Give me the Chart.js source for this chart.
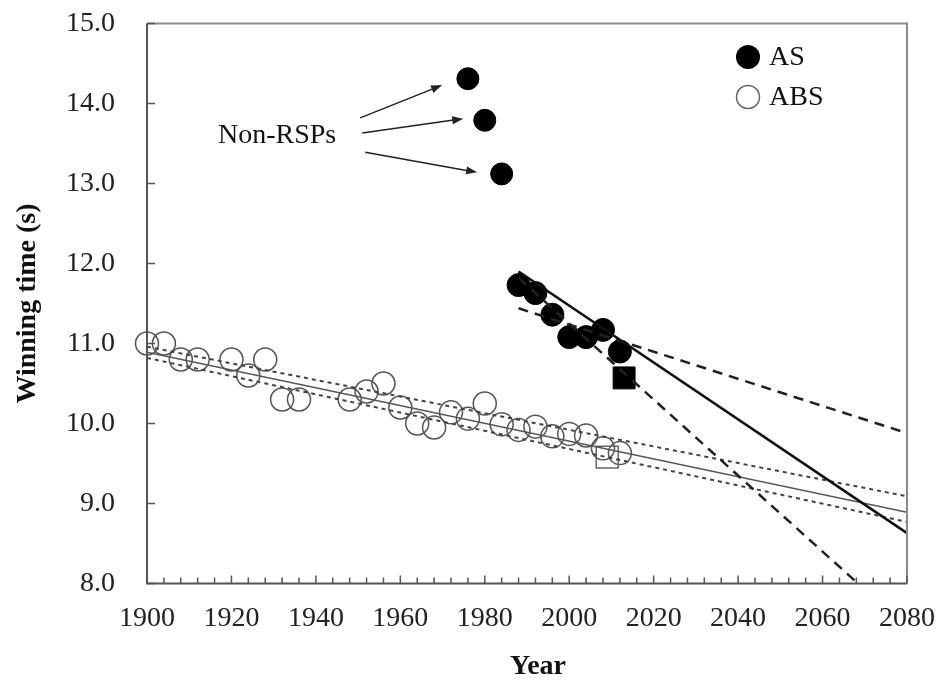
<!DOCTYPE html>
<html>
<head>
<meta charset="utf-8">
<script src="https://cdn.jsdelivr.net/npm/chart.js@4/dist/chart.umd.min.js"></script>
<style>
  html, body { margin: 0; padding: 0; background: #fff; }
</style>
</head>
<body>
<canvas id="myChart" width="941" height="681"></canvas>
<script>
// ABS (open circles) - Olympic winners
const absYears = [1900, 1904, 1908, 1912, 1920, 1924, 1928, 1932, 1936, 1948, 1952, 1956, 1960,
  1964, 1968, 1972, 1976, 1980, 1984, 1988, 1992, 1996, 2000, 2004, 2008, 2012];
const absTimes = [11.0, 11.0, 10.8, 10.8, 10.8, 10.6, 10.8, 10.3, 10.3, 10.3, 10.4, 10.5, 10.2,
  10.0, 9.95, 10.14, 10.06, 10.25, 9.99, 9.92, 9.96, 9.84, 9.87, 9.85, 9.69, 9.63];

// AS (filled circles)
const asYears = [1988, 1992, 1996, 2000, 2004, 2008, 2012];
const asTimes = [11.73, 11.63, 11.36, 11.08, 11.08, 11.17, 10.9];

// non-RSP AS points
const nonRspYears = [1976, 1980, 1984];
const nonRspTimes = [14.31, 13.79, 13.12];

// squares (world records)
const absSquare = { year: 2009, time: 9.58 };
const asSquare = { year: 2013, time: 10.57 };

// fitted lines [start, end]
const absFitYears = [1900, 2080];
const absFit = [10.89, 8.89];
const absUpper = [10.96, 9.09];
const absLower = [10.82, 8.77];

const asFitYears = [1988, 2080];
const asFit = [11.9, 8.63];
const asUpper = [11.44, 9.88];
const asLowerYears = [1988, 2068.4];
const asLower = [11.82, 8.0];

const xTicks = [1900, 2080, 20];
const yTicks = [8, 15, 1];

const serif = "'Liberation Serif', 'Times New Roman', serif";

function pts(xs, ys) {
  return xs.map((x, i) => ({ x: x, y: ys[i] }));
}

function lineSet(xs, ys, color, width, dash) {
  return {
    data: pts(xs, ys),
    showLine: true,
    pointRadius: 0,
    borderColor: color,
    borderWidth: width,
    borderDash: dash,
    fill: false
  };
}

// frame, inner ticks, legend, x title and annotation
const decor = {
  id: 'decor',
  afterDraw(chart) {
    const c = chart.ctx;
    const a = chart.chartArea;
    const xs = chart.scales.x;
    const ys = chart.scales.y;
    c.save();

    // top / right border
    c.strokeStyle = '#8a8a8a';
    c.lineWidth = 2;
    c.beginPath();
    c.moveTo(a.left, a.top);
    c.lineTo(a.right, a.top);
    c.lineTo(a.right, a.bottom);
    c.stroke();
    // axes
    c.strokeStyle = '#555';
    c.beginPath();
    c.moveTo(a.left, a.top);
    c.lineTo(a.left, a.bottom);
    c.lineTo(a.right, a.bottom);
    c.stroke();

    // x ticks every 4 years, pointing in
    c.lineWidth = 1.5;
    c.beginPath();
    for (let yr = xTicks[0]; yr <= xTicks[1]; yr += 4) {
      const px = xs.getPixelForValue(yr);
      const len = (yr - xTicks[0]) % xTicks[2] === 0 ? 8 : 6;
      c.moveTo(px, a.bottom);
      c.lineTo(px, a.bottom - len);
    }
    // y ticks pointing in
    for (let v = yTicks[0]; v <= yTicks[1]; v += yTicks[2]) {
      const py = ys.getPixelForValue(v);
      c.moveTo(a.left, py);
      c.lineTo(a.left + 8, py);
    }
    c.stroke();

    // legend
    c.fillStyle = '#000';
    c.beginPath();
    c.arc(748, 57, 12, 0, Math.PI * 2);
    c.fill();
    c.strokeStyle = '#666';
    c.lineWidth = 1.5;
    c.beginPath();
    c.arc(748, 97, 11.5, 0, Math.PI * 2);
    c.stroke();
    c.fillStyle = '#111';
    c.font = '28px ' + serif;
    c.textAlign = 'left';
    c.textBaseline = 'middle';
    c.fillText('AS', 769, 58);
    c.fillText('ABS', 769, 98);

    // Non-RSPs annotation
    c.fillText('Non-RSPs', xs.getPixelForValue(1916.8), ys.getPixelForValue(13.6));
    const arrows = [
      [1950.5, 13.82, 1969.9, 14.23],
      [1951.0, 13.63, 1974.9, 13.81],
      [1951.7, 13.39, 1978.2, 13.14]
    ];
    c.strokeStyle = '#222';
    c.fillStyle = '#222';
    c.lineWidth = 1.5;
    arrows.forEach(ar => {
      const x0 = xs.getPixelForValue(ar[0]), y0 = ys.getPixelForValue(ar[1]);
      const x1 = xs.getPixelForValue(ar[2]), y1 = ys.getPixelForValue(ar[3]);
      const ang = Math.atan2(y1 - y0, x1 - x0);
      c.beginPath();
      c.moveTo(x0, y0);
      c.lineTo(x1 - 8 * Math.cos(ang), y1 - 8 * Math.sin(ang));
      c.stroke();
      c.beginPath();
      c.moveTo(x1, y1);
      c.lineTo(x1 - 11 * Math.cos(ang) + 4 * Math.sin(ang), y1 - 11 * Math.sin(ang) - 4 * Math.cos(ang));
      c.lineTo(x1 - 11 * Math.cos(ang) - 4 * Math.sin(ang), y1 - 11 * Math.sin(ang) + 4 * Math.cos(ang));
      c.closePath();
      c.fill();
    });

    // x axis title (sits a little right of centre in the original)
    c.fillStyle = '#111';
    c.font = 'bold 28px ' + serif;
    c.textAlign = 'center';
    c.fillText('Year', (a.left + a.right) / 2 + 11, 667);
    c.restore();
  }
};

const ctx = document.getElementById('myChart');

new Chart(ctx, {
  type: 'scatter',
  data: {
    datasets: [
      lineSet(asFitYears, asFit, '#111', 2.5, []),
      lineSet(asFitYears, asUpper, '#222', 2.5, [10, 7]),
      lineSet(asLowerYears, asLower, '#222', 2.5, [10, 7]),
      lineSet(absFitYears, absFit, '#555', 1.5, []),
      lineSet(absFitYears, absUpper, '#444', 2, [4, 4]),
      lineSet(absFitYears, absLower, '#444', 2, [4, 4]),
      {
        data: [{ x: asSquare.year, y: asSquare.time }],
        pointStyle: 'rect',
        pointRadius: 15.5,
        backgroundColor: '#000',
        borderColor: '#000',
        borderWidth: 1,
        clip: false
      },
      {
        data: [{ x: absSquare.year, y: absSquare.time }],
        pointStyle: 'rect',
        pointRadius: 15.5,
        backgroundColor: 'rgba(255,255,255,0)',
        borderColor: '#666',
        borderWidth: 1.5,
        clip: false
      },
      {
        data: pts(asYears, asTimes),
        pointStyle: 'circle',
        pointRadius: 11.5,
        backgroundColor: '#000',
        borderColor: '#000',
        borderWidth: 1,
        clip: false
      },
      {
        data: pts(nonRspYears, nonRspTimes),
        pointStyle: 'circle',
        pointRadius: 11,
        backgroundColor: '#000',
        borderColor: '#000',
        borderWidth: 1,
        clip: false
      },
      {
        data: pts(absYears, absTimes),
        pointStyle: 'circle',
        pointRadius: 11.5,
        backgroundColor: 'rgba(255,255,255,0)',
        borderColor: '#555',
        borderWidth: 1.5,
        clip: false
      }
    ]
  },
  options: {
    responsive: false,
    animation: false,
    events: [],
    layout: { padding: { top: 23.5, right: 34, left: 0, bottom: 0 } },
    plugins: {
      legend: { display: false },
      tooltip: { enabled: false }
    },
    scales: {
      x: {
        type: 'linear',
        min: xTicks[0],
        max: xTicks[1],
        grid: { display: false, drawTicks: false },
        border: { display: false },
        ticks: {
          stepSize: xTicks[2],
          padding: 18,
          color: '#222',
          font: { family: serif, size: 28 },
          callback: v => String(v)
        },
        afterFit(s) {
          s.height = 97.5;
          s.paddingLeft = 0;
          s.paddingRight = 0;
        }
      },
      y: {
        min: yTicks[0],
        max: yTicks[1],
        grid: { display: false, drawTicks: false },
        border: { display: false },
        ticks: {
          stepSize: yTicks[2],
          padding: 32,
          color: '#222',
          font: { family: serif, size: 28 },
          callback: v => v.toFixed(1)
        },
        title: {
          display: true,
          text: 'Winning time (s)',
          color: '#111',
          font: { family: serif, size: 28, weight: 'bold', lineHeight: 1 },
          padding: { top: 14, bottom: 0 }
        },
        afterFit(s) {
          s.width = 147;
          s.paddingTop = 0;
          s.paddingBottom = 0;
        }
      }
    }
  },
  plugins: [decor]
});
</script>
</body>
</html>
